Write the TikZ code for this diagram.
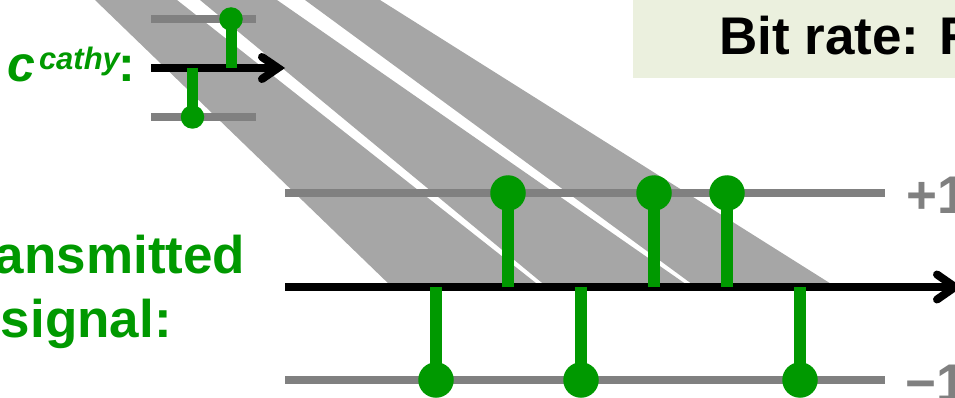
\documentclass[tikz,border=0pt]{standalone}
\usepackage{fontspec}
\setmainfont{Liberation Sans}
\definecolor{sig}{RGB}{0,153,0}
\definecolor{band}{RGB}{166,166,166}
\definecolor{level}{RGB}{128,128,128}
\definecolor{note}{RGB}{235,240,222}
\newcommand{\bigtext}{\fontsize{53}{64}\selectfont\bfseries}
\begin{document}
\begin{tikzpicture}[x=1pt,y=-1pt,
  bandfill/.style={fill=band,draw=none},
  levelline/.style={draw=level,line width=7.5pt},
  axisline/.style={draw=black,line width=8pt},
  tiphead/.style={draw=black,line width=8pt,line cap=round,line join=miter},
  smallstem/.style={draw=sig,line width=11pt},
  bigstem/.style={draw=sig,line width=12pt},
  smalldot/.style={circle,fill=sig,inner sep=0pt,minimum size=23.5pt},
  bigdot/.style={circle,fill=sig,inner sep=0pt,minimum size=35.5pt},
  label/.style={inner sep=0pt,font=\bigtext}
]
\useasboundingbox (0,0) rectangle (955,398);

% spreading chip bands
\fill[bandfill] (95,0) -- (177,0) -- (541,287) -- (392,287) -- cycle;
\fill[bandfill] (200,0) -- (277,0) -- (690,287) -- (547,287) -- cycle;
\fill[bandfill] (305,0) -- (380,0) -- (836,287) -- (696,287) -- cycle;

% rate box
\fill[note] (633,-5) rectangle (960,78);
\node[label,anchor=base west] (rate) at (719,55) {Bit rate: R};

% code sequence c^cathy
\draw[levelline] (151,19) -- (256,19);
\draw[levelline] (151,117) -- (256,117);
\draw[axisline] (151,68) -- (276,68);
\draw[tiphead] (262,57) -- (278,68) -- (262,79);
\coordinate (ca) at (231,68);
\coordinate (cb) at (192.5,68);
\node[smalldot] (cp) at (231,19) {};
\node[smalldot] (cm) at (192.5,117) {};
\draw[smallstem] (ca) -- (cp.center);
\draw[smallstem] (cb) -- (cm.center);
\node[inner sep=0pt,anchor=base west,text=sig] (code) at (7,82)
  {\fontsize{50}{60}\selectfont\bfseries\itshape c\kern4pt\raisebox{12pt}{\fontsize{31}{37}\selectfont cathy}\upshape\kern-1pt:};

% transmitted signal
\draw[levelline] (285,193) -- (885,193);
\draw[levelline] (285,380) -- (885,380);
\draw[axisline] (285,287) -- (952,287);
\draw[tiphead] (937,274.5) -- (955,287) -- (937,299.5);

\foreach \n/\x/\y in {u1/508/193, u2/654/193, u3/727/193, d1/436/380, d2/581/380, d3/800/380}{
  \coordinate (a\n) at (\x,287);
  \node[bigdot] (p\n) at (\x,\y) {};
  \draw[bigstem] (a\n) -- (p\n.center);
}

\node[label,anchor=base west,text=level] (plus) at (906,213) {+1};
\node[label,anchor=base west,text=level] (minus) at (905,401) {\char"2212 1};

\node[label,anchor=base east,text=sig] (tx1) at (245.5,273) {Transmitted};
\node[label,anchor=base west,text=sig] (tx2) at (0.7,337) {signal:};
\end{tikzpicture}
\end{document}
